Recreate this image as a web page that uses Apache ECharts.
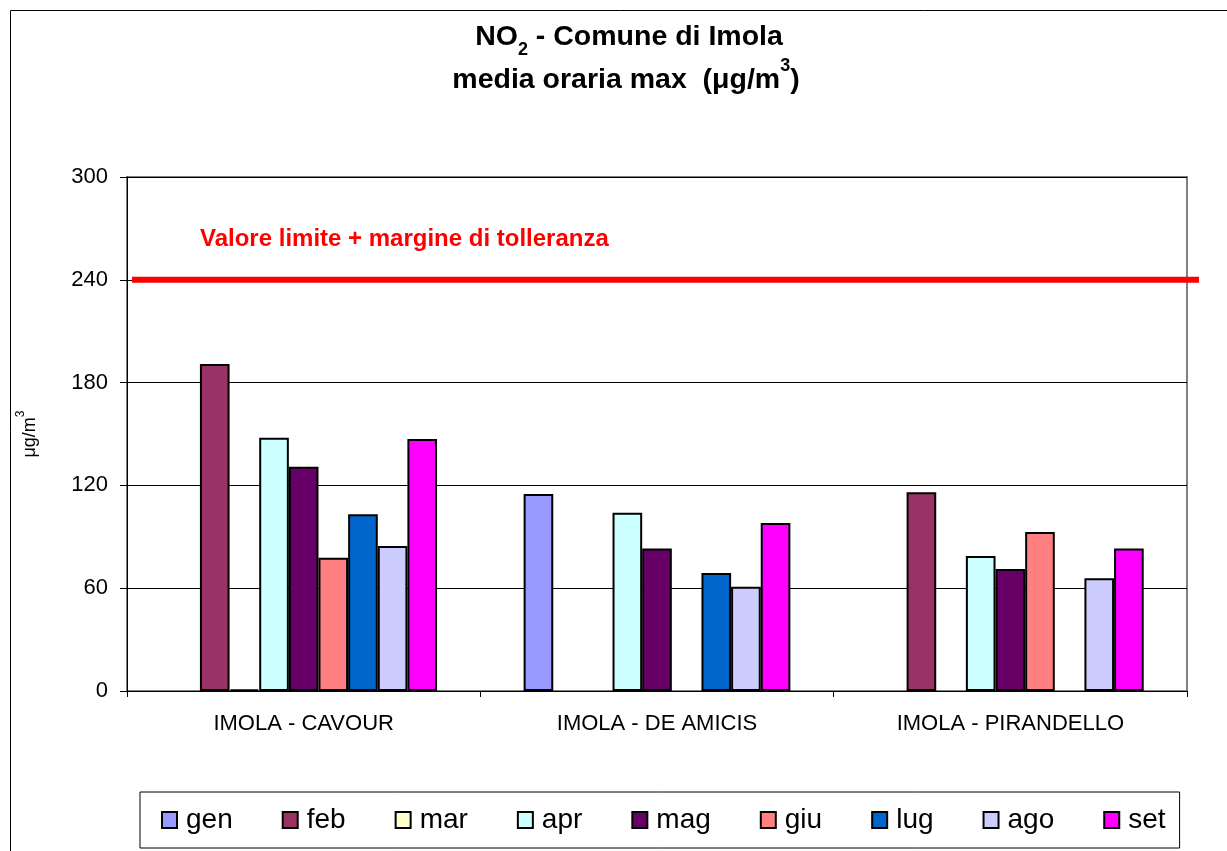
<!DOCTYPE html>
<html>
<head>
<meta charset="utf-8">
<script src="https://cdn.jsdelivr.net/npm/echarts@6/dist/echarts.min.js"></script>
<style>html,body{margin:0;padding:0;background:#fff}#c{width:1227px;height:851px}</style>
</head>
<body>
<div id="c"></div>
<script>
const categories = ['IMOLA - CAVOUR', 'IMOLA - DE AMICIS', 'IMOLA - PIRANDELLO'];
const months = ['gen', 'feb', 'mar', 'apr', 'mag', 'giu', 'lug', 'ago', 'set'];
const colors = ['#9999FF', '#993366', '#FFFFCC', '#CCFFFF', '#660066', '#FF8080', '#0066CC', '#CCCCFF', '#FF00FF'];
const gen = [null, 115, null];
const feb = [190.9, null, 116];
const mar = [1, null, null];
const apr = [147.8, 104.1, 78.8];
const mag = [130.9, 83.1, 71.2];
const giu = [77.8, null, 92.8];
const lug = [103.1, 68.9, null];
const ago = [84.6, 60.9, 65.8];
const set = [147.1, 98.1, 83.1];
const limitValue = 240;
const yTicks = { min: 0, max: 300, interval: 60 };

const seriesData = [gen, feb, mar, apr, mag, giu, lug, ago, set];
const FONT = 'Liberation Sans, Arial, sans-serif';

const chart = echarts.init(document.getElementById('c'), null, { renderer: 'canvas' });

const series = months.map((m, i) => ({
  name: m,
  type: 'bar',
  data: seriesData[i],
  barGap: '0%',
  barCategoryGap: '24.5%',
  itemStyle: { color: colors[i], borderColor: '#000', borderWidth: 2 },
  emphasis: { disabled: true },
  animation: false
}));

chart.setOption({
  animation: false,
  grid: {
    left: 127, right: 40, top: 177, bottom: 160,
    show: true, borderColor: '#808080', borderWidth: 2, backgroundColor: '#fff'
  },
  legend: {
    data: months,
    left: 140, top: 792,
    orient: 'horizontal',
    icon: 'rect',
    itemWidth: 15, itemHeight: 16,
    itemGap: 49,
    padding: [14, 14, 14, 21],
    borderColor: '#000', borderWidth: 1,
    itemStyle: { borderColor: '#000', borderWidth: 2 },
    textStyle: { fontFamily: FONT, fontSize: 28, color: '#000', padding: [0, 0, 0, 4] },
    selectedMode: false
  },
  xAxis: {
    type: 'category',
    data: categories,
    axisLine: { lineStyle: { color: '#000', width: 1 } },
    axisTick: { show: true, alignWithLabel: false, length: 6, lineStyle: { color: '#000' } },
    axisLabel: { fontFamily: FONT, fontSize: 22, color: '#000', margin: 22 },
    splitLine: { show: false }
  },
  yAxis: {
    type: 'value',
    min: yTicks.min, max: yTicks.max, interval: yTicks.interval,
    name: 'μg/m{sup|3}',
    nameLocation: 'middle',
    nameRotate: 90,
    nameGap: 88,
    nameTextStyle: {
      fontFamily: FONT, fontSize: 18, color: '#000',
      rich: { sup: { fontFamily: FONT, fontSize: 12, verticalAlign: 'top', padding: [-6, 0, 0, 0] } }
    },
    axisLine: { show: true, lineStyle: { color: '#000', width: 1 } },
    axisTick: { show: true, length: 7, lineStyle: { color: '#000' } },
    axisLabel: { fontFamily: FONT, fontSize: 22, color: '#000', margin: 19 },
    splitLine: { show: true, lineStyle: { color: '#000', width: 1 } }
  },
  series: series
});

function drawLimit() {
  const y = chart.convertToPixel({ yAxisIndex: 0 }, limitValue);
  const x0 = chart.convertToPixel({ xAxisIndex: 0 }, categories[0]);
  const x2 = chart.convertToPixel({ xAxisIndex: 0 }, categories[2]);
  const halfBand = (x2 - x0) / 4;
  const left = x0 - halfBand;
  const right = x2 + halfBand;
  chart.setOption({
    graphic: [
      {
        type: 'rect', silent: true, z: -10,
        shape: { x: 10.5, y: 10.5, width: 1400, height: 1000 },
        style: { fill: 'none', stroke: '#000', lineWidth: 1 }
      },
      {
        type: 'text', silent: true, z: 100,
        x: 629, y: 37,
        style: {
          text: 'NO{sub|2} - Comune di Imola',
          fill: '#000', font: 'bold 28.5px ' + FONT,
          align: 'center', verticalAlign: 'middle',
          rich: { sub: { fill: '#000', font: 'bold 18px ' + FONT, verticalAlign: 'bottom', padding: [0, 0, -8, 0] } }
        }
      },
      {
        type: 'text', silent: true, z: 100,
        x: 626, y: 80,
        style: {
          text: 'media oraria max  (μg/m{sup|3})',
          fill: '#000', font: 'bold 28.5px ' + FONT,
          align: 'center', verticalAlign: 'middle',
          rich: { sup: { fill: '#000', font: 'bold 18px ' + FONT, verticalAlign: 'top', padding: [-8, 0, 0, 0] } }
        }
      },
      {
        type: 'line', silent: true, z: 100,
        shape: { x1: left + 5, y1: y, x2: right + 12, y2: y },
        style: { stroke: '#FF0000', lineWidth: 6 }
      },
      {
        type: 'text', silent: true, z: 100,
        x: left + 73, y: y - 40,
        style: {
          text: 'Valore limite + margine di tolleranza',
          fill: '#FF0000', font: 'bold 24px ' + FONT,
          verticalAlign: 'middle'
        }
      }
    ]
  });
}
drawLimit();
</script>
</body>
</html>
